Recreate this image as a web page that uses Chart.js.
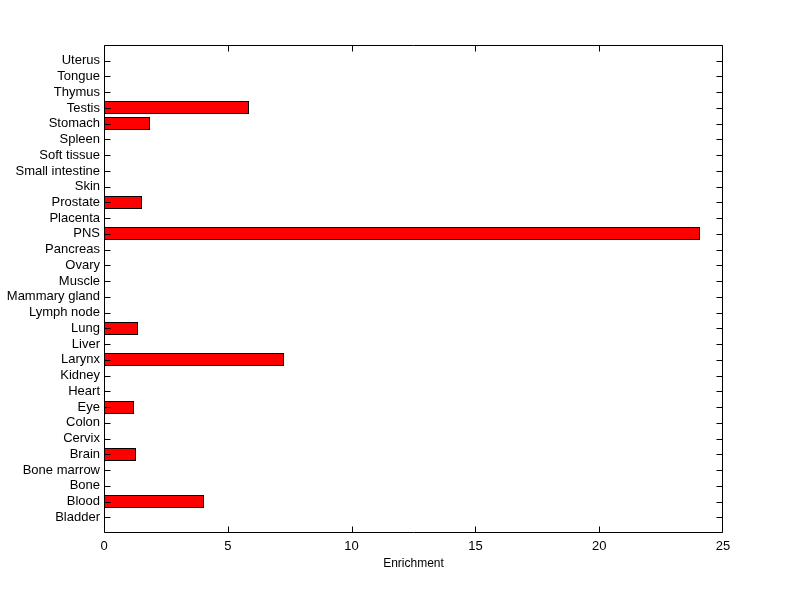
<!DOCTYPE html>
<html>
<head>
<meta charset="utf-8">
<script src="https://cdn.jsdelivr.net/npm/chart.js@4/dist/chart.umd.min.js"></script>
<style>
  html, body { margin: 0; padding: 0; background: #fff; }
  #grafico { display: block; }
</style>
</head>
<body>
<canvas id="grafico" width="800" height="599"></canvas>
<script>
// Tejidos, de abajo (Bladder) hacia arriba (Uterus)
const tejidos = [
    "Bladder", "Blood", "Bone", "Bone marrow", "Brain", "Cervix", "Colon", "Eye",
    "Heart", "Kidney", "Larynx", "Liver", "Lung", "Lymph node", "Mammary gland",
    "Muscle", "Ovary", "Pancreas", "PNS", "Placenta", "Prostate", "Skin",
    "Small intestine", "Soft tissue", "Spleen", "Stomach", "Testis", "Thymus",
    "Tongue", "Uterus"
];

const enriquecimiento = [
    0, 4.03, 0, 0, 1.28, 0, 0, 1.2,
    0, 0, 7.28, 0, 1.37, 0, 0,
    0, 0, 0, 24.07, 0, 1.52, 0,
    0, 0, 0, 1.85, 5.87, 0,
    0, 0
];

const ticksX = [0, 5, 10, 15, 20, 25];

const fuente = { family: "'Liberation Sans', Arial, sans-serif", size: 13 };

// Huecos vacíos en los extremos para que el eje vaya de 0 a 31
const etiquetas = ["", ...tejidos, ""];
const valores = [null, ...enriquecimiento, null];

// Barras alineadas al píxel para que el borde negro salga nítido
const nitidoPlugin = {
    id: "nitido",
    beforeDatasetsDraw(chart) {
        chart.getDatasetMeta(0).data.forEach(el => {
            if (el.skip) return;
            const alto = Math.round(el.height);
            el.x = Math.round(el.x);
            el.base = Math.round(el.base);
            el.y = Math.round(el.y - alto / 2) + alto / 2;
            el.height = alto;
        });
    }
};

// Marco y marcas hacia dentro, como en MATLAB
const marcoPlugin = {
    id: "marco",
    afterDatasetsDraw(chart) {
        const { ctx, chartArea: a, scales } = chart;
        const largo = 6;
        ctx.save();
        ctx.strokeStyle = "#000";
        ctx.lineWidth = 1;
        ctx.beginPath();
        const l = Math.round(a.left) + 0.5, r = Math.round(a.right) - 0.5;
        const t = Math.round(a.top) + 0.5, b = Math.round(a.bottom) - 0.5;
        ctx.rect(l, t, r - l, b - t);
        ticksX.forEach(v => {
            const x = Math.min(Math.round(scales.x.getPixelForValue(v)) + 0.5, r);
            ctx.moveTo(x, b); ctx.lineTo(x, b - largo);
            ctx.moveTo(x, t); ctx.lineTo(x, t + largo);
        });
        tejidos.forEach((_, i) => {
            const y = Math.round(scales.y.getPixelForValue(i + 1)) + 0.5;
            ctx.moveTo(l, y); ctx.lineTo(l + largo, y);
            ctx.moveTo(r, y); ctx.lineTo(r - largo, y);
        });
        ctx.stroke();
        ctx.restore();
    }
};

new Chart(document.getElementById("grafico"), {
    type: "bar",
    data: {
        labels: etiquetas,
        datasets: [{
            data: valores,
            backgroundColor: "#ff0000",
            borderColor: "#000000",
            borderWidth: 1,
            borderSkipped: false,
            barPercentage: 0.82,
            categoryPercentage: 1.0
        }]
    },
    options: {
        indexAxis: "y",
        responsive: false,
        animation: false,
        layout: { padding: { left: 0, right: 77, top: 45, bottom: 0 } },
        plugins: {
            legend: { display: false },
            tooltip: { enabled: false }
        },
        scales: {
            x: {
                type: "linear",
                min: 0,
                max: 25,
                afterBuildTicks(scale) {
                    scale.ticks = ticksX.map(v => ({ value: v }));
                },
                afterFit(scale) { scale.height = 66; },
                grid: { display: false, drawTicks: false },
                border: { display: false },
                ticks: { color: "#000", font: fuente, padding: 6 },
                title: {
                    display: true,
                    text: "Enrichment",
                    color: "#000",
                    font: { family: fuente.family, size: 12 },
                    padding: { top: 0, bottom: 28 }
                }
            },
            y: {
                type: "category",
                reverse: true,
                offset: false,
                afterFit(scale) { scale.width = 104; },
                grid: { display: false, drawTicks: false },
                border: { display: false },
                ticks: { color: "#000", font: fuente, padding: 4, autoSkip: false }
            }
        }
    },
    plugins: [nitidoPlugin, marcoPlugin]
});
</script>
</body>
</html>
